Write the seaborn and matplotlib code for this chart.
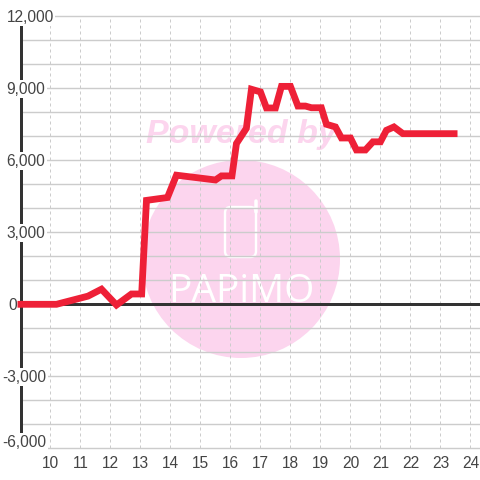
import matplotlib
matplotlib.use("Agg")
import matplotlib.pyplot as plt
import matplotlib.patches as patches
from matplotlib.lines import Line2D
import seaborn as sns

hours = [8.9, 10.2, 11.25, 11.7, 12.2, 12.7, 13.04, 13.2, 13.9, 14.2, 15.5, 15.7, 16.05,
         16.2, 16.53, 16.7, 17.0, 17.2, 17.5, 17.7, 18.0, 18.25, 18.5, 18.7, 19.03,
         19.2, 19.5, 19.7, 20.0, 20.2, 20.5, 20.75, 21.0, 21.2, 21.45, 21.75, 23.57]
values = [0, 0, 340, 630, -30, 430, 430, 4330, 4450, 5380, 5180, 5350, 5350,
          6700, 7330, 8960, 8850, 8180, 8180, 9080, 9080, 8260, 8260, 8190, 8190,
          7500, 7390, 6930, 6930, 6430, 6430, 6770, 6770, 7250, 7390, 7110, 7110]
x_ticks = list(range(10, 25))
y_labels = [12000, 9000, 6000, 3000, 0, -3000, -6000]
y_grid = list(range(-6000, 13000, 1000))

sns.set_theme(style="white")
plt.rcParams['font.family'] = ['Liberation Sans', 'DejaVu Sans']

px = 72 / 100
pink = '#fcd5ee'
grid_col = '#cccccc'
dark = '#333333'

fig = plt.figure(figsize=(4.8, 4.8), dpi=100, facecolor='white')
ax = fig.add_axes([20.5 / 480, (480 - 448.3) / 480, (480 - 20.5) / 480, 432 / 480])
ax.patch.set_visible(False)

# Watermark sits behind the axes
fig.add_artist(patches.Ellipse((241 / 480, 1 - 259 / 480), 198 / 480, 198 / 480,
                               transform=fig.transFigure, color=pink, lw=0, zorder=-2))
fig.add_artist(patches.FancyBboxPatch((225 / 480, 1 - 257 / 480), 31 / 480, 50 / 480,
                                      boxstyle="round,pad=0,rounding_size=0.012",
                                      transform=fig.transFigure, fc='none', ec='white',
                                      lw=2.4 * px, zorder=-1))
fig.add_artist(Line2D([256 / 480, 256 / 480], [1 - 212 / 480, 1 - 201 / 480],
                      transform=fig.transFigure, color='white', lw=3.5 * px,
                      solid_capstyle='round', zorder=-1))
fig.text(241.5 / 480, 1 - 134.5 / 480, 'Powered by', color=pink, fontsize=34 * px,
         fontweight='bold', fontstyle='italic', family=['Liberation Sans'],
         ha='center', va='center', zorder=-1)
fig.text(241 / 480, 1 - 292 / 480, 'PAPiMO', color='white', fontsize=39 * px,
         family=['Open Sans'], ha='center', va='center', zorder=-1)

ax.axhline(0, color=dark, lw=3 * px, zorder=1.5)
sns.lineplot(x=hours, y=values, ax=ax, color='#ee2037', lw=6.8 * px, sort=False,
             errorbar=None, solid_joinstyle='miter', solid_capstyle='butt', zorder=4,
             clip_on=False)

ax.set_xlim(9, 24.32)
ax.set_ylim(-6000, 12000)
ax.set_xticks(x_ticks)
ax.set_yticks(y_grid)
ax.set_yticklabels([])
ax.set_axisbelow(True)
ax.grid(axis='y', color=grid_col, lw=1.4 * px, linestyle='-')
ax.grid(axis='x', color=grid_col, lw=1 * px, linestyle=(0, (3, 3)))
for gl in ax.get_ygridlines():
    gl.set_clip_on(False)

for s in ['top', 'right', 'bottom']:
    ax.spines[s].set_visible(False)
ax.spines['left'].set_color(dark)
ax.spines['left'].set_linewidth(3 * px)

ax.tick_params(axis='both', length=0)
ax.tick_params(axis='x', labelsize=15.5 * px, labelcolor='#444444', pad=5.6)

for v in y_labels:
    label = f"{v:,}"
    left = 2.5 if v < 0 else (8 if v == 0 else 6.5)
    up = 6 if v == -6000 else -0.8
    ax.annotate(label, xy=(0, v), xycoords=ax.get_yaxis_transform(),
                xytext=((left - 20.5) * px, up * px), textcoords='offset points',
                ha='left', va='center', fontsize=15.5 * px, color='#444444',
                annotation_clip=False, zorder=3,
                bbox=dict(fc='white', ec='none', pad=1.0))

fig.savefig('out.png', dpi=100)
